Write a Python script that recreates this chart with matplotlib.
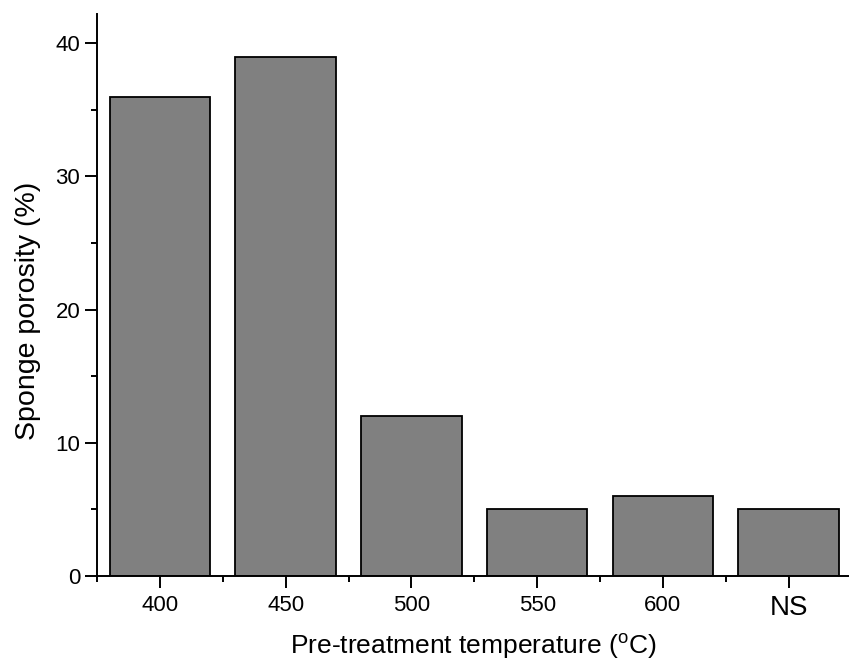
import matplotlib
matplotlib.use("Agg")
import matplotlib.pyplot as plt
from matplotlib.ticker import MultipleLocator, FixedLocator

plt.rcParams['font.family'] = ['Liberation Sans', 'DejaVu Sans']
plt.rcParams['mathtext.fontset'] = 'custom'
plt.rcParams['mathtext.rm'] = 'Liberation Sans'
plt.rcParams['mathtext.it'] = 'Liberation Sans'

categories = ['400', '450', '500', '550', '600', 'NS']
porosity = [36, 39, 12, 5, 6, 5]

fig = plt.figure(figsize=(8.49, 6.66), dpi=100)
ax = fig.add_axes([97/849, 90/666, 1 - 97/849 + 0.003, (576-14)/666])

x = list(range(len(categories)))
ax.bar(x, porosity, width=0.8, color='#808080', edgecolor='black', linewidth=1.3, zorder=2)

ax.set_xlim(-0.5, 5.5)
ax.set_ylim(0, 42.2)
ax.set_xticks(x)
ax.set_xticklabels(categories)
ax.xaxis.set_minor_locator(FixedLocator([i - 0.5 for i in range(len(categories) + 1)]))
ax.yaxis.set_major_locator(MultipleLocator(10))
ax.yaxis.set_minor_locator(MultipleLocator(5))

for s in ['top', 'right']:
    ax.spines[s].set_visible(False)
for s in ['left', 'bottom']:
    ax.spines[s].set_linewidth(1.4)

ax.tick_params(which='major', direction='out', length=8.5, width=1.4, labelsize=16)
ax.tick_params(axis='x', which='major', pad=5)
ax.tick_params(axis='y', which='major', pad=3.5)
ax.tick_params(which='minor', direction='out', length=4.5, width=1.4)
ax.get_xticklabels()[-1].set_fontsize(20)

ax.set_xlabel(r'Pre-treatment temperature ($\mathrm{^{o}}$C)', fontsize=19)
ax.set_ylabel('Sponge porosity (%)', fontsize=20.5)
ax.xaxis.set_label_coords(473/849, 1 - 632/666, transform=fig.transFigure)
ax.yaxis.set_label_coords(41/849, 1 - 311/666, transform=fig.transFigure)

fig.savefig('out.png', dpi=100)
